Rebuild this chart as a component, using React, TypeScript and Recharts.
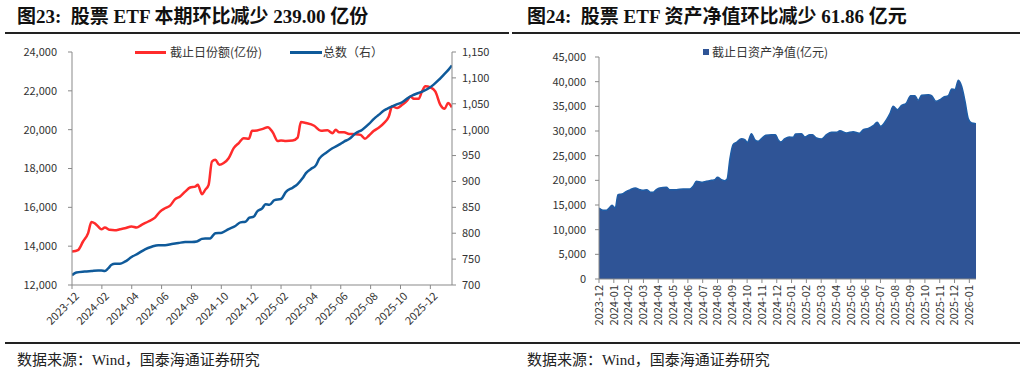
import React from "react";
import { LineChart, Line, AreaChart, Area, XAxis, YAxis } from "recharts";

// Left chart: x = months since 2023-12
const SHARE_M = [0, 0.4, 0.74, 1.08, 1.3, 1.52, 1.75, 1.97, 2.2, 2.53, 2.87, 3.21, 3.54, 3.99, 4.33, 4.66, 5.11, 5.56, 5.9, 6.23, 6.57, 6.91, 7.24, 7.58, 7.91, 8.25, 8.43, 8.7, 8.92, 9.15, 9.37, 9.6, 9.87, 10.16, 10.49, 10.83, 11.17, 11.5, 11.84, 12.06, 12.4, 12.78, 13.11, 13.44, 13.78, 14.0, 14.33, 14.78, 15.11, 15.33, 15.67, 16.22, 16.67, 17.11, 17.44, 17.67, 17.89, 18.22, 18.56, 19.0, 19.33, 19.62, 19.89, 20.22, 20.56, 20.89, 21.22, 21.44, 21.78, 22.11, 22.44, 22.67, 22.89, 23.22, 23.44, 23.67, 24.0, 24.33, 24.67, 24.96, 25.18, 25.44];
const SHARE_V = [13720, 13800, 14240, 14670, 15250, 15180, 15010, 14870, 14960, 14840, 14820, 14870, 14920, 15010, 14960, 15100, 15270, 15470, 15780, 15950, 16090, 16420, 16560, 16810, 17020, 17070, 17160, 16680, 16900, 17160, 18360, 18450, 18190, 18280, 18530, 19050, 19310, 19560, 19530, 19940, 19960, 20040, 20130, 19870, 19420, 19440, 19420, 19440, 19590, 20390, 20340, 20200, 19940, 19970, 19820, 19990, 19870, 19870, 19780, 19770, 19730, 19530, 19700, 19940, 20110, 20340, 20680, 21200, 21110, 21280, 21490, 21710, 21590, 21590, 21970, 22230, 22180, 21970, 21280, 21080, 21370, 21150];

const TOTAL_M = [0, 0.29, 0.85, 1.3, 1.75, 1.97, 2.2, 2.42, 2.65, 2.87, 3.21, 3.54, 3.99, 4.44, 4.89, 5.34, 5.78, 6.23, 6.68, 7.13, 7.58, 8.03, 8.36, 8.7, 8.92, 9.26, 9.37, 9.6, 10.04, 10.49, 10.94, 11.28, 11.61, 11.88, 12.17, 12.4, 12.74, 12.96, 13.22, 13.56, 14.0, 14.33, 14.78, 15.11, 15.44, 15.67, 16.0, 16.33, 16.56, 17.0, 17.44, 17.89, 18.22, 18.56, 19.0, 19.44, 19.89, 20.22, 20.56, 20.89, 21.22, 21.67, 22.11, 22.44, 22.78, 23.22, 23.56, 23.89, 24.22, 24.56, 24.89, 25.22, 25.44];
const TOTAL_V = [719, 724, 726, 727, 728, 728, 727, 732, 739, 741, 741, 745, 754, 761, 769, 774, 777, 777, 779, 781, 783, 783, 784, 789, 790, 790, 793, 800, 801, 808, 814, 821, 822, 830, 832, 842, 848, 856, 855, 864, 866, 880, 888, 895, 906, 916, 924, 931, 944, 955, 964, 971, 977, 982, 993, 1000, 1011, 1021, 1029, 1037, 1042, 1048, 1053, 1060, 1066, 1071, 1075, 1080, 1087, 1096, 1106, 1116, 1124];

const LEFT_TICK_LABELS = ["2023-12", "2024-02", "2024-04", "2024-06", "2024-08", "2024-10", "2024-12", "2025-02", "2025-04", "2025-06", "2025-08", "2025-10", "2025-12"];
const LEFT_Y_TICKS = [12000, 14000, 16000, 18000, 20000, 22000, 24000];
const RIGHT_Y_TICKS = [700, 750, 800, 850, 900, 950, 1000, 1050, 1100, 1150];

// Right chart: net asset value (亿元)
const NAV_M = [0, 0.27, 0.5, 0.68, 0.88, 1.1, 1.28, 1.55, 1.85, 2.12, 2.45, 2.75, 2.97, 3.24, 3.47, 3.65, 3.87, 4.1, 4.55, 4.77, 5.23, 5.68, 6.13, 6.35, 6.58, 6.91, 7.25, 7.59, 7.82, 8.0, 8.27, 8.49, 8.65, 8.83, 9.05, 9.28, 9.62, 9.84, 10.02, 10.29, 10.52, 10.74, 10.97, 11.26, 11.64, 11.91, 12.09, 12.27, 12.55, 12.84, 13.11, 13.27, 13.67, 13.9, 14.23, 14.41, 14.68, 15.02, 15.36, 15.7, 16.04, 16.26, 16.71, 17.16, 17.57, 17.84, 18.18, 18.51, 18.78, 19.01, 19.41, 19.64, 19.86, 20.14, 20.43, 20.72, 21.04, 21.33, 21.55, 21.78, 22.23, 22.45, 22.75, 23.02, 23.24, 23.58, 23.81, 24.03, 24.26, 24.48, 24.71, 24.93, 25.16, 25.45];
const NAV_V = [14390, 13920, 13920, 14390, 14930, 14390, 17100, 17230, 17770, 18110, 18450, 18110, 17970, 18110, 17570, 17570, 18110, 18450, 18580, 18110, 18110, 18240, 18240, 18780, 19800, 19600, 19800, 20000, 20140, 20610, 20140, 19930, 20270, 24190, 27230, 27700, 28450, 28240, 27700, 29460, 28240, 27910, 28450, 29120, 29260, 29260, 28240, 27770, 28450, 28790, 28720, 29390, 29460, 28790, 29260, 29260, 28580, 28380, 29260, 29730, 29730, 30070, 29600, 29870, 29530, 30270, 30540, 31080, 31760, 30950, 32300, 33520, 35000, 34330, 35200, 35540, 37160, 37160, 36220, 37230, 37370, 37160, 36010, 36350, 36830, 37160, 38510, 38380, 40270, 39050, 36010, 32500, 31620, 31490];

const NAV_TICK_LABELS = ["2023-12", "2024-01", "2024-02", "2024-03", "2024-04", "2024-05", "2024-06", "2024-07", "2024-08", "2024-09", "2024-10", "2024-11", "2024-12", "2025-01", "2025-02", "2025-03", "2025-04", "2025-05", "2025-06", "2025-07", "2025-08", "2025-09", "2025-10", "2025-11", "2025-12", "2026-01"];
const NAV_Y_TICKS = [0, 5000, 10000, 15000, 20000, 25000, 30000, 35000, 40000, 45000];

const FONT = "'Noto Sans CJK SC', 'Noto Sans', sans-serif";
const TITLE_FONT = "'Liberation Serif', 'Noto Sans CJK SC', serif";
const AXIS = "#898989";
const TEXT = "#333333";
const RED = "#FF2B2B";
const BLUE = "#0F5A9A";

const fmt = (v: number) => v.toLocaleString("en-US");

function buildLeftData() {
  const rows = new Map<number, { m: number; share?: number; total?: number }>();
  SHARE_M.forEach((m, i) => {
    const r = rows.get(m) || { m };
    r.share = SHARE_V[i];
    rows.set(m, r);
  });
  TOTAL_M.forEach((m, i) => {
    const r = rows.get(m) || { m };
    r.total = TOTAL_V[i];
    rows.set(m, r);
  });
  return Array.from(rows.values()).sort((a, b) => a.m - b.m);
}

const leftData = buildLeftData();
const navData = NAV_M.map((m, i) => ({ m, nav: NAV_V[i] }));

const LeftDateTick = (props: any) => {
  const { x, y, payload } = props;
  const label = LEFT_TICK_LABELS[Math.round(payload.value / 2)];
  return (
    <g transform={`translate(${x + 4},${y + 2})`}>
      <text textAnchor="end" transform="rotate(-45)" fontSize={11} fill={TEXT} fontFamily={FONT} dy="0.5em">
        {label}
      </text>
    </g>
  );
};

const NavDateTick = (props: any) => {
  const { x, y, payload } = props;
  return (
    <g transform={`translate(${x},${y})`}>
      <text textAnchor="end" transform="rotate(-90)" fontSize={11} fill={TEXT} fontFamily={FONT} dy="0.35em">
        {NAV_TICK_LABELS[payload.value]}
      </text>
    </g>
  );
};

const tickStyle = { fontSize: 11, fill: TEXT, fontFamily: FONT };

function Title({ left, text }: { left: number; text: string }) {
  return (
    <div
      style={{
        position: "absolute",
        left,
        top: 5,
        fontFamily: TITLE_FONT,
        fontWeight: "bold",
        fontSize: 19,
        color: "#111",
        whiteSpace: "pre",
        lineHeight: "24px",
      }}
    >
      {text}
    </div>
  );
}

function Source({ left }: { left: number }) {
  return (
    <div
      style={{
        position: "absolute",
        left,
        top: 350,
        fontFamily: "'Liberation Serif', 'Noto Sans CJK SC', serif",
        fontSize: 15,
        color: "#222",
        lineHeight: "20px",
      }}
    >
      数据来源：Wind，国泰海通证券研究
    </div>
  );
}

export default function App() {
  const leftTicks = LEFT_TICK_LABELS.map((_, i) => i * 2);
  const navTicks = NAV_TICK_LABELS.map((_, i) => i);
  return (
    <div style={{ position: "absolute", left: 0, top: 0, width: 1026, height: 375, background: "#fff", overflow: "hidden" }}>
      <Title left={17} text={"图23:  股票 ETF 本期环比减少 239.00 亿份"} />
      <Title left={527} text={"图24:  股票 ETF 资产净值环比减少 61.86 亿元"} />
      <div style={{ position: "absolute", left: 5, top: 32, width: 504, height: 1.5, background: "#222" }} />
      <div style={{ position: "absolute", left: 512, top: 32, width: 508, height: 1.5, background: "#222" }} />
      <div style={{ position: "absolute", left: 5, top: 342, width: 1015, height: 2, background: "#222" }} />

      {/* left chart */}
      <div style={{ position: "absolute", left: 0, top: 40 }}>
        <LineChart width={510} height={300} data={leftData} margin={{ top: 12, right: 0, bottom: 0, left: 0 }}>
          <XAxis
            dataKey="m"
            type="number"
            domain={[0, 25.45]}
            ticks={leftTicks}
            tick={<LeftDateTick />}
            height={55}
            stroke={AXIS}
            tickSize={4}
            interval={0}
            allowDataOverflow
          />
          <YAxis
            yAxisId="left"
            domain={[12000, 24000]}
            ticks={LEFT_Y_TICKS}
            tickFormatter={fmt}
            tick={tickStyle}
            width={72}
            stroke={AXIS}
            tickSize={4}
            tickMargin={11}
            interval={0}
            allowDataOverflow
          />
          <YAxis
            yAxisId="right"
            orientation="right"
            domain={[700, 1150]}
            ticks={RIGHT_Y_TICKS}
            tickFormatter={fmt}
            tick={tickStyle}
            width={58}
            stroke={AXIS}
            tickSize={4}
            tickMargin={6}
            interval={0}
            allowDataOverflow
          />
          <Line
            yAxisId="left"
            type="monotone"
            dataKey="share"
            stroke={RED}
            strokeWidth={2.5}
            dot={false}
            connectNulls
            isAnimationActive={false}
          />
          <Line
            yAxisId="right"
            type="monotone"
            dataKey="total"
            stroke={BLUE}
            strokeWidth={2.5}
            dot={false}
            connectNulls
            isAnimationActive={false}
          />
        </LineChart>
      </div>
      {/* left legend */}
      <div style={{ position: "absolute", left: 135, top: 51, width: 31, height: 2.5, background: RED }} />
      <div style={{ position: "absolute", left: 170, top: 43, fontFamily: FONT, fontSize: 12, color: TEXT, lineHeight: "18px" }}>
        截止日份额(亿份)
      </div>
      <div style={{ position: "absolute", left: 290, top: 51, width: 32, height: 2.5, background: BLUE }} />
      <div style={{ position: "absolute", left: 323, top: 43, fontFamily: FONT, fontSize: 12, color: TEXT, lineHeight: "18px" }}>
        总数（右）
      </div>

      {/* right chart */}
      <div style={{ position: "absolute", left: 510, top: 40 }}>
        <AreaChart width={516} height={300} data={navData} margin={{ top: 17, right: 50, bottom: 0, left: 0 }}>
          <XAxis
            dataKey="m"
            type="number"
            domain={[0, 25.45]}
            ticks={navTicks}
            tick={<NavDateTick />}
            height={61}
            stroke={AXIS}
            tickSize={4}
            interval={0}
            allowDataOverflow
          />
          <YAxis
            domain={[0, 45000]}
            ticks={NAV_Y_TICKS}
            tickFormatter={fmt}
            tick={tickStyle}
            width={89}
            stroke={AXIS}
            tickSize={4}
            tickMargin={9}
            interval={0}
          />
          <Area
            type="monotone"
            dataKey="nav"
            stroke="#1F5DA6"
            strokeWidth={1.5}
            fill="#2F5496"
            fillOpacity={1}
            isAnimationActive={false}
          />
        </AreaChart>
      </div>
      {/* right legend */}
      <div style={{ position: "absolute", left: 703, top: 49, width: 6, height: 6, background: "#2F5496" }} />
      <div style={{ position: "absolute", left: 712, top: 43, fontFamily: FONT, fontSize: 12, color: TEXT, lineHeight: "18px" }}>
        截止日资产净值(亿元)
      </div>

      <Source left={17} />
      <Source left={527} />
    </div>
  );
}
